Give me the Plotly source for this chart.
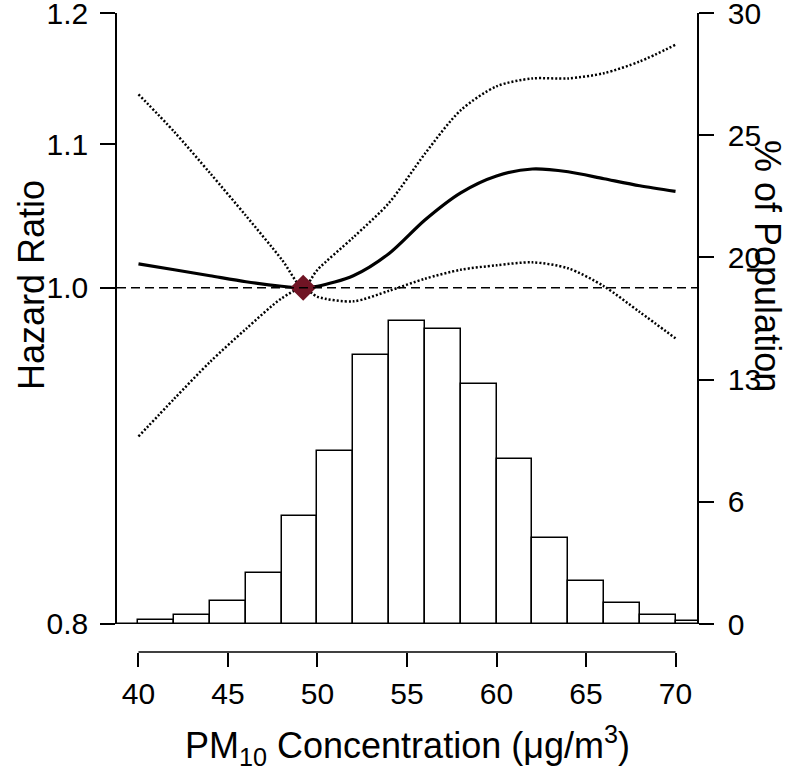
import plotly.graph_objects as go

# ---- data ----
pm10 = [40, 42, 44, 46, 48, 49.2, 50, 52, 54, 56, 58, 60, 62, 64, 66, 68, 70]
hr = [1.016, 1.012, 1.008, 1.004, 1.001, 1.000, 1.001, 1.008, 1.023, 1.046,
      1.065, 1.077, 1.082, 1.080, 1.075, 1.070, 1.066]
hr_upper = [1.137, 1.109, 1.079, 1.049, 1.019, 1.000, 1.012, 1.034, 1.058, 1.093,
            1.125, 1.143, 1.149, 1.149, 1.153, 1.162, 1.175]
hr_lower = [0.906, 0.929, 0.952, 0.973, 0.993, 1.000, 0.994, 0.991, 0.998, 1.006,
            1.012, 1.015, 1.017, 1.013, 1.001, 0.984, 0.967]
ref_pm10 = [49.2]
ref_hr = [1.0]

bin_centers = [39, 41, 43, 45, 47, 49, 51, 53, 55, 57, 59, 61, 63, 65, 67, 69, 71]
pct_population = [0, 0.2, 0.44, 1.13, 2.5, 5.3, 8.5, 13.2, 14.9, 14.5, 11.8,
                  8.1, 4.2, 2.1, 1.03, 0.44, 0.15]

x_ticks = [40, 45, 50, 55, 60, 65, 70]
hr_ticks = [0.8, 1.0, 1.1, 1.2]
hr_ticktext = ["0.8", "1.0", "1.1", "1.2"]
pct_ticks = [0, 6, 12, 18, 24, 30]
pct_ticktext = ["0", "6", "13", "20", "25", "30"]

FONT = "Liberation Sans, Arial, sans-serif"
TICK = 30
TITLE = 36

W, H = 793, 770
L, R, T, B = 117, 96, 13, 118
PLOT_H = H - T - B          # paper height in px (paper bottom = detached x-axis line)
BASE_PX = 624               # pixel row of the HR=0.8 / 0% baseline

fig = go.Figure()

# histogram (right axis)
fig.add_trace(go.Bar(
    x=bin_centers, y=pct_population, width=2, yaxis="y",
    marker=dict(color="white", line=dict(color="black", width=1.5)),
    showlegend=False, hoverinfo="skip",
))

# CI and estimate (left log axis)
fig.add_trace(go.Scatter(
    x=pm10, y=hr_upper, yaxis="y2", mode="lines",
    line=dict(color="black", width=2.5, dash="2px,2px", shape="spline", smoothing=0.8),
    showlegend=False, hoverinfo="skip",
))
fig.add_trace(go.Scatter(
    x=pm10, y=hr_lower, yaxis="y2", mode="lines",
    line=dict(color="black", width=2.5, dash="2px,2px", shape="spline", smoothing=0.8),
    showlegend=False, hoverinfo="skip",
))
fig.add_trace(go.Scatter(
    x=pm10, y=hr, yaxis="y2", mode="lines",
    line=dict(color="black", width=3.2, shape="spline", smoothing=0.8),
    showlegend=False, hoverinfo="skip",
))
fig.add_trace(go.Scatter(
    x=ref_pm10, y=ref_hr, yaxis="y2", mode="markers",
    marker=dict(symbol="diamond", size=20, color="#701424"),
    showlegend=False, hoverinfo="skip",
))

# reference line at HR = 1
fig.add_shape(type="line", xref="paper", x0=0, x1=1, yref="y2", y0=1, y1=1,
              line=dict(color="black", width=1.6, dash="9px,5px"))
# histogram baseline
fig.add_shape(type="line", xref="paper", x0=0, x1=1, yref="y", y0=0, y1=0,
              line=dict(color="black", width=1.5))
# detached x-axis line from 40 to 70
fig.add_shape(type="line", xref="x", x0=x_ticks[0], x1=x_ticks[-1], yref="paper", y0=0, y1=0,
              line=dict(color="black", width=1.5))

paper_bottom_px = H - B
ydom = [(paper_bottom_px - BASE_PX) / PLOT_H, 1]


def py(px):
    return (paper_bottom_px - px) / PLOT_H


def pxx(px):
    return (px - L) / (W - L - R)


fig.update_layout(
    width=W, height=H,
    margin=dict(l=L, r=R, t=T, b=B, autoexpand=False),
    paper_bgcolor="white", plot_bgcolor="white",
    font=dict(family=FONT, color="black"),
    bargap=0,
    xaxis=dict(
        range=[38.8, 71.2], anchor="free", position=0,
        showline=False, showgrid=False, zeroline=False,
        tickvals=x_ticks, ticks="outside", ticklen=14, tickwidth=1.5, tickcolor="black",
        tickfont=dict(size=TICK, family=FONT), ticklabelstandoff=1,
        ticklabeloverflow="allow",
    ),
    yaxis=dict(
        domain=ydom, range=[0, 30], side="right", anchor="x",
        showline=True, linecolor="black", linewidth=1.5,
        showgrid=False, zeroline=False,
        tickvals=pct_ticks, ticktext=pct_ticktext,
        ticks="outside", ticklen=15, tickwidth=1.5, tickcolor="black",
        tickfont=dict(size=TICK, family=FONT), ticklabelstandoff=8,
        ticklabeloverflow="allow",
    ),
    yaxis2=dict(
        domain=ydom, type="log", range=[-0.096915, 0.079185], side="left",
        overlaying="y", anchor="x",
        showline=True, linecolor="black", linewidth=1.5,
        showgrid=False, zeroline=False,
        tickvals=hr_ticks, ticktext=hr_ticktext,
        ticks="outside", ticklen=15, tickwidth=1.5, tickcolor="black",
        tickfont=dict(size=TICK, family=FONT), ticklabelstandoff=6,
        ticklabeloverflow="allow",
    ),
    annotations=[
        dict(text="PM<sub>10</sub> Concentration (μg/m<sup>3</sup>)",
             xref="paper", yref="paper", x=pxx(407), y=py(745),
             xanchor="center", yanchor="middle", showarrow=False,
             font=dict(size=TITLE, family=FONT)),
        dict(text="Hazard Ratio", xref="paper", yref="paper",
             x=pxx(31), y=py(285), textangle=-90,
             xanchor="center", yanchor="middle", showarrow=False,
             font=dict(size=TITLE, family=FONT)),
        dict(text="% of Population", xref="paper", yref="paper",
             x=pxx(768), y=py(266), textangle=90,
             xanchor="center", yanchor="middle", showarrow=False,
             font=dict(size=TITLE, family=FONT)),
    ],
)

fig.write_html("out.html",
               config={"displayModeBar": False},
               post_script="document.body.style.margin='0';document.body.style.overflow='hidden';")
